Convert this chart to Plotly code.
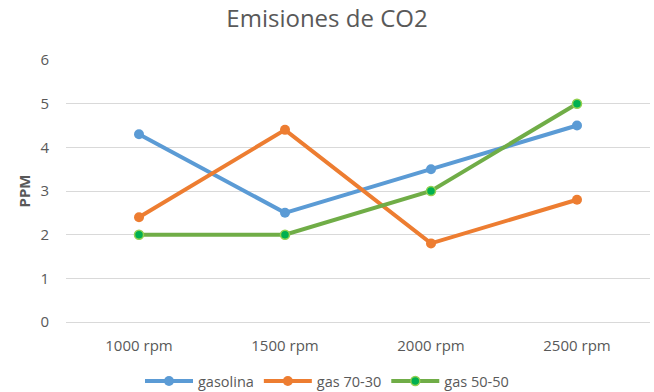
import plotly.graph_objects as go

categories = ["1000 rpm", "1500 rpm", "2000 rpm", "2500 rpm"]
gasolina = [4.3, 2.5, 3.5, 4.5]
gas_70_30 = [2.4, 4.4, 1.8, 2.8]
gas_50_50 = [2.0, 2.0, 3.0, 5.0]

FONT = "Open Sans"
TXT = "#595959"

fig = go.Figure()
fig.add_trace(go.Scatter(
    x=categories, y=gasolina, name="gasolina", mode="lines+markers",
    line=dict(color="#5B9BD5", width=4),
    marker=dict(color="#5B9BD5", size=10),
))
fig.add_trace(go.Scatter(
    x=categories, y=gas_70_30, name="gas 70-30", mode="lines+markers",
    line=dict(color="#ED7D31", width=4),
    marker=dict(color="#ED7D31", size=10),
))
fig.add_trace(go.Scatter(
    x=categories, y=gas_50_50, name="gas 50-50", mode="lines+markers",
    line=dict(color="#70AD47", width=4),
    marker=dict(color="#00B050", size=9, line=dict(color="#92D050", width=1.5)),
))

fig.update_layout(
    width=654, height=392,
    paper_bgcolor="white", plot_bgcolor="white",
    margin=dict(l=66, r=4, t=60, b=70),
    font=dict(family=FONT, color=TXT, size=15),
    title=dict(text="Emisiones de CO2", x=0.5, xanchor="center", xref="container",
               y=1 - 19 / 392, yanchor="middle", yref="container",
               font=dict(family=FONT, size=24, color=TXT)),
    showlegend=True,
    legend=dict(orientation="h", x=0.5, xanchor="center", xref="container",
                y=1 - 381 / 392, yanchor="middle", yref="container",
                font=dict(family=FONT, size=14.5, color=TXT),
                itemwidth=48, tracegroupgap=0),
    xaxis=dict(type="category", range=[-0.5, 3.5], showgrid=False,
               showline=True, linecolor="#d9d9d9", linewidth=1,
               ticks="", tickfont=dict(size=15, color=TXT), ticklabelstandoff=10),
    yaxis=dict(range=[0, 6], dtick=1, showgrid=True, gridcolor="#d9d9d9", gridwidth=1,
               zeroline=False, showline=False, ticks="",
               tickfont=dict(size=15, color=TXT), ticklabelstandoff=16,
               title=dict(text="<b>PPM</b>", font=dict(size=15, color=TXT), standoff=6)),
)

fig.write_html("out.html", config={"displayModeBar": False},
               post_script="document.body.style.margin='0';")
